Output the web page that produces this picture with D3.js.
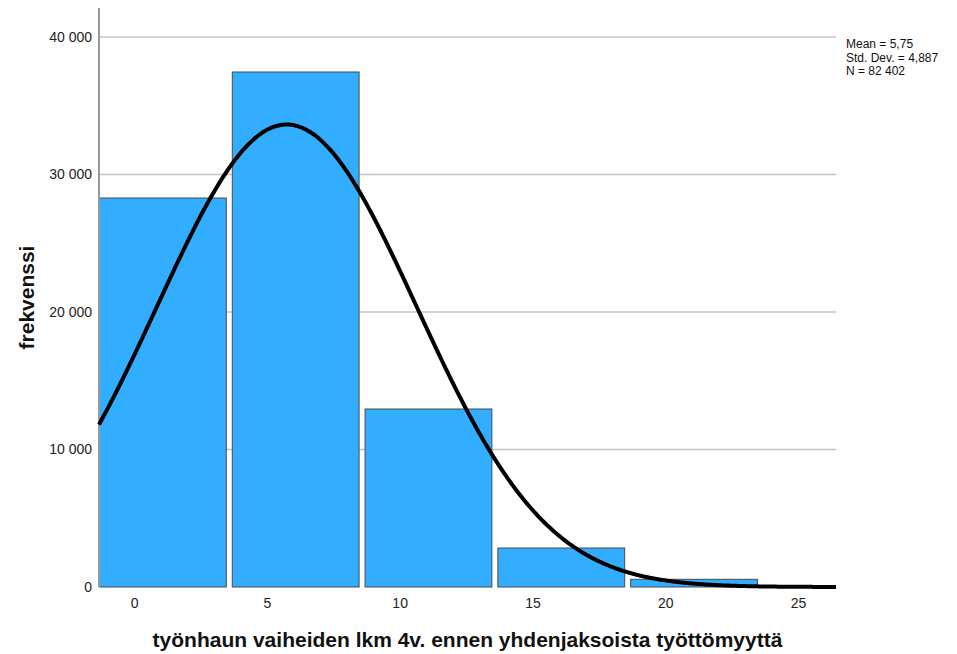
<!DOCTYPE html>
<html>
<head>
<meta charset="utf-8">
<style>
body { margin: 0; background: #fff; }
svg { font-family: "Liberation Sans", Arial, sans-serif; }
.bar { fill: #33adff; stroke: #4a4a4a; stroke-width: 1; }
.grid line { stroke: #c4c4c4; stroke-width: 1.5; }
.tick text { fill: #222; font-size: 14px; }
.axis-title { font-weight: bold; font-size: 21px; fill: #111; }
.stats { font-size: 12px; fill: #111; }
</style>
</head>
<body>

<svg id="chart" width="957" height="654"></svg>

<script src="https://d3js.org/d3.v7.min.js"></script>
<script>

// histogram bins (lower edges) and counts
var binEdges = [-1.32, 3.68, 8.68, 13.68, 18.68, 23.68];
var counts = [28290, 37455, 12945, 2836, 560];

var xTicks = [0, 5, 10, 15, 20, 25];
var yTicks = [0, 10000, 20000, 30000, 40000];

var mean = 5.75, stdDev = 4.887, n = 82402;
var statLines = ["Mean = 5,75", "Std. Dev. = 4,887", "N = 82 402"];

var xTitle = "työnhaun vaiheiden lkm 4v. ennen yhdenjaksoista työttömyyttä";
var yTitle = "frekvenssi";

var plotLeft = 99, plotRight = 836, plotTop = 8, plotBottom = 587;

var svg = d3.select("#chart");

var fi = d3.formatLocale({decimal: ",", thousands: "\u00a0", grouping: [3], currency: ["", ""]});
var fmt = fi.format(",d");

var xScale = d3.scaleLinear()
    .domain([-1.32, 26.43])
    .range([plotLeft, plotRight]);

var yScale = d3.scaleLinear()
    .domain([0, 40000])
    .range([plotBottom, plotBottom - 550]);

// gridlines
svg.append("g")
    .attr("class", "grid")
    .selectAll("line")
    .data(yTicks.filter(function(d) { return d > 0; }))
    .enter()
    .append("line")
    .attr("x1", plotLeft)
    .attr("x2", plotRight)
    .attr("y1", function(d) { return yScale(d); })
    .attr("y2", function(d) { return yScale(d); });

// y axis
var yAxis = svg.append("g")
    .attr("transform", "translate(" + plotLeft + ",0)")
    .call(d3.axisLeft(yScale).tickValues(yTicks).tickFormat(fmt).tickSize(0).tickPadding(7));
yAxis.select(".domain").remove();

// x axis
var xAxis = svg.append("g")
    .attr("transform", "translate(0," + plotBottom + ")")
    .call(d3.axisBottom(xScale).tickValues(xTicks).tickSize(0).tickPadding(11));
xAxis.select(".domain").remove();

// bars
var bins = counts.map(function(c, i) { return {x0: binEdges[i], x1: binEdges[i] + 5, count: c}; });
var gap = 6;
svg.selectAll("rect.bar")
    .data(bins)
    .enter()
    .append("rect")
    .attr("class", "bar")
    .attr("x", function(d) { return xScale(d.x0) + 0.5; })
    .attr("y", function(d) { return yScale(d.count); })
    .attr("width", function(d) { return xScale(d.x1) - xScale(d.x0) - gap; })
    .attr("height", function(d) { return yScale(0) - yScale(d.count); });

// y axis line
svg.append("line")
    .attr("x1", plotLeft).attr("x2", plotLeft)
    .attr("y1", plotTop).attr("y2", plotBottom)
    .attr("stroke", "#999")
    .attr("stroke-width", 2);

// normal curve from the stated mean / sd / N
var curveX = d3.range(-1.32, 26.43, 0.05).concat([26.43]);
var peak = n * 5 / (stdDev * Math.sqrt(2 * Math.PI));
var line = d3.line()
    .x(function(d) { return xScale(d); })
    .y(function(d) { var z = (d - mean) / stdDev; return yScale(peak * Math.exp(-0.5 * z * z)); })
    .curve(d3.curveBasis);
svg.append("path")
    .datum(curveX)
    .attr("d", line)
    .attr("fill", "none")
    .attr("stroke", "#000")
    .attr("stroke-width", 4);

// stats text
svg.append("g")
    .selectAll("text")
    .data(statLines)
    .enter()
    .append("text")
    .attr("class", "stats")
    .attr("x", 846)
    .attr("y", function(d, i) { return 48 + i * 13.5; })
    .text(function(d) { return d; });

// titles
svg.append("text")
    .attr("class", "axis-title")
    .attr("x", (plotLeft + plotRight) / 2)
    .attr("y", 647)
    .attr("text-anchor", "middle")
    .text(xTitle);

svg.append("text")
    .attr("class", "axis-title")
    .attr("transform", "translate(34," + (plotTop + plotBottom) / 2 + ") rotate(-90)")
    .attr("text-anchor", "middle")
    .text(yTitle);

</script>
</body>
</html>
